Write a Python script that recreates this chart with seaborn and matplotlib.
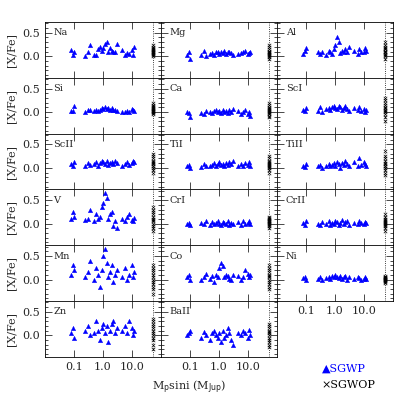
import numpy as np
import pandas as pd
import matplotlib
matplotlib.use("Agg")
import matplotlib.pyplot as plt
import seaborn as sns
from matplotlib.ticker import LogLocator, FixedLocator, NullFormatter, MultipleLocator

sns.set_style("ticks")
plt.rcParams["font.family"] = ["DejaVu Serif"]

# planet masses (M_Jup) for stars with planets
mass = [0.08, 0.09, 0.10, 0.25, 0.30, 0.35, 0.50, 0.60, 0.70, 0.80, 0.90, 1.0, 1.2,
        1.4, 1.5, 1.7, 2.0, 2.3, 2.6, 3.0, 4.5, 6.0, 7.0, 8.0, 10.0, 11.0, 12.0]
elements = ["Na", "Mg", "Al", "Si", "Ca", "ScI", "ScII", "TiI", "TiII",
            "V", "CrI", "CrII", "Mn", "Co", "Ni", "Zn", "BaII"]
sgwp = {
    "Na":   [0.13, 0.03, 0.09, 0.00, 0.10, 0.23, 0.02, 0.03, 0.15, 0.20, 0.12, 0.18, 0.26, 0.30, 0.10, 0.17, 0.12, 0.09, 0.08, 0.27, 0.13, 0.03, 0.07, 0.05, 0.14, 0.02, 0.20],
    "Mg":   [0.02, 0.08, -0.06, 0.03, 0.11, 0.00, 0.05, 0.06, 0.03, 0.08, 0.10, 0.05, 0.09, 0.07, 0.12, 0.04, 0.08, 0.10, 0.06, 0.03, 0.05, 0.07, 0.09, 0.12, 0.04, 0.06, 0.10],
    "Al":   [0.05, 0.12, 0.18, 0.10, 0.04, 0.08, 0.02, 0.12, 0.10, 0.05, 0.15, 0.25, 0.40, 0.30, 0.06, 0.12, 0.08, 0.15, 0.10, 0.20, 0.12, 0.05, 0.15, 0.10, 0.08, 0.18, 0.12],
    "Si":   [0.02, 0.02, 0.13, 0.00, 0.05, 0.05, 0.03, 0.04, 0.02, 0.05, 0.08, 0.06, 0.10, 0.07, 0.09, 0.05, 0.08, 0.04, 0.05, 0.02, 0.00, 0.01, 0.03, 0.00, 0.06, 0.04, 0.02],
    "Ca":   [0.00, -0.02, -0.10, -0.02, -0.04, 0.02, 0.00, -0.03, 0.02, 0.04, 0.00, 0.03, -0.02, 0.05, 0.00, 0.02, -0.03, 0.04, 0.00, 0.06, 0.02, -0.04, 0.00, 0.05, -0.05, 0.00, -0.08],
    "ScI":  [0.05, 0.02, 0.08, 0.03, 0.10, 0.00, 0.06, 0.08, 0.05, 0.10, 0.12, 0.08, 0.06, 0.12, 0.10, 0.05, 0.08, 0.12, 0.06, 0.03, 0.08, 0.05, 0.10, 0.02, 0.06, 0.00, 0.04],
    "ScII": [0.08, 0.05, 0.12, 0.05, 0.10, 0.06, 0.08, 0.12, 0.04, 0.10, 0.15, 0.12, 0.08, 0.14, 0.06, 0.10, 0.12, 0.08, 0.15, 0.10, 0.05, 0.08, 0.12, 0.06, 0.10, 0.15, 0.12],
    "TiI":  [0.03, 0.06, 0.00, 0.02, 0.08, 0.05, 0.03, 0.06, 0.10, 0.05, 0.08, 0.12, 0.06, 0.08, 0.04, 0.10, 0.06, 0.12, 0.08, 0.15, 0.05, 0.08, 0.03, 0.10, 0.06, 0.12, 0.05],
    "TiII": [0.05, 0.02, 0.08, 0.03, 0.06, 0.00, 0.05, 0.08, 0.03, 0.06, 0.10, 0.05, 0.12, 0.08, 0.00, 0.10, 0.06, 0.15, 0.08, 0.05, 0.12, 0.03, 0.20, 0.06, 0.12, 0.08, 0.03],
    "V":    [0.10, 0.25, 0.15, 0.08, 0.10, 0.30, 0.05, 0.20, 0.10, 0.15, 0.35, 0.45, 0.65, 0.55, 0.10, 0.20, 0.25, -0.05, 0.05, -0.10, 0.10, 0.05, 0.15, 0.20, 0.08, 0.05, 0.12],
    "CrI":  [0.00, 0.02, -0.03, 0.02, 0.00, 0.05, -0.02, 0.03, 0.00, 0.02, 0.05, 0.00, -0.02, 0.03, 0.02, 0.00, 0.05, -0.03, 0.02, 0.00, 0.03, -0.02, 0.05, 0.00, 0.02, 0.06, 0.00],
    "CrII": [0.02, -0.02, 0.05, 0.00, -0.03, 0.03, 0.00, 0.05, -0.02, 0.02, 0.00, 0.05, 0.03, -0.02, 0.02, 0.08, 0.00, 0.03, 0.05, -0.02, 0.02, 0.00, 0.06, 0.02, 0.00, 0.04, 0.02],
    "Mn":   [0.10, 0.30, 0.20, 0.05, 0.15, 0.40, 0.00, 0.25, 0.10, -0.15, 0.20, 0.50, 0.65, 0.35, 0.05, 0.15, 0.30, -0.05, 0.10, 0.20, 0.05, 0.25, 0.00, 0.10, 0.30, 0.05, 0.15],
    "Co":   [0.05, 0.10, -0.02, 0.00, 0.05, 0.12, 0.02, 0.08, -0.05, 0.10, 0.05, 0.25, 0.35, 0.28, 0.05, 0.10, 0.08, 0.02, -0.02, 0.10, 0.08, 0.00, 0.05, 0.20, 0.12, 0.05, 0.10],
    "Ni":   [0.03, 0.06, -0.02, 0.02, 0.06, 0.00, 0.03, 0.05, 0.02, 0.08, 0.05, 0.10, 0.06, 0.03, 0.08, 0.02, 0.05, 0.07, 0.00, 0.06, 0.02, 0.05, 0.03, 0.00, 0.02, 0.05, 0.02],
    "Zn":   [0.05, 0.15, -0.05, 0.10, 0.20, 0.00, 0.05, 0.30, 0.10, -0.10, 0.15, 0.25, 0.05, 0.20, -0.15, 0.10, 0.25, 0.30, 0.05, 0.15, 0.10, 0.20, 0.05, 0.30, 0.15, 0.00, 0.10],
    "BaII": [0.00, 0.05, 0.10, -0.05, 0.08, 0.00, -0.10, 0.05, 0.10, 0.00, -0.05, 0.05, -0.15, 0.10, -0.05, 0.00, 0.15, 0.05, -0.10, -0.20, 0.05, 0.00, 0.10, 0.05, -0.05, 0.12, 0.00],
}
# stars without planets (plotted in a column at the right edge)
sgwop = {
    "Na":   [0.00, 0.02, 0.04, 0.06, 0.08, 0.10, 0.12, 0.14, 0.16, 0.18, 0.20, 0.25],
    "Mg":   [-0.05, -0.02, 0.00, 0.02, 0.04, 0.06, 0.08, 0.10, 0.12, 0.15, 0.20, 0.25],
    "Al":   [-0.05, 0.00, 0.02, 0.05, 0.08, 0.10, 0.12, 0.15, 0.18, 0.20, 0.25, 0.30],
    "Si":   [-0.05, -0.02, 0.00, 0.02, 0.03, 0.05, 0.06, 0.08, 0.10, 0.12, 0.15, 0.20],
    "Ca":   [-0.10, -0.08, -0.05, -0.02, 0.00, 0.02, 0.04, 0.06, 0.08, 0.10, 0.15, 0.20],
    "ScI":  [-0.20, -0.10, -0.05, 0.00, 0.02, 0.05, 0.08, 0.10, 0.15, 0.20, 0.25, 0.30],
    "ScII": [-0.10, -0.05, 0.00, 0.03, 0.05, 0.08, 0.10, 0.12, 0.15, 0.20, 0.25, 0.30],
    "TiI":  [-0.10, -0.05, 0.00, 0.02, 0.04, 0.06, 0.08, 0.10, 0.12, 0.15, 0.20, 0.25],
    "TiII": [-0.15, -0.10, -0.05, 0.00, 0.03, 0.05, 0.08, 0.10, 0.15, 0.20, 0.25, 0.35],
    "V":    [-0.15, -0.10, -0.05, 0.00, 0.05, 0.08, 0.10, 0.15, 0.20, 0.25, 0.30, 0.35],
    "CrI":  [-0.10, -0.05, -0.03, 0.00, 0.02, 0.03, 0.05, 0.06, 0.08, 0.10, 0.12, 0.15],
    "CrII": [-0.15, -0.10, -0.05, -0.02, 0.00, 0.02, 0.04, 0.06, 0.08, 0.10, 0.15, 0.20],
    "Mn":   [-0.30, -0.20, -0.15, -0.10, -0.05, 0.00, 0.05, 0.10, 0.15, 0.20, 0.25, 0.30],
    "Co":   [-0.20, -0.15, -0.10, -0.05, 0.00, 0.05, 0.08, 0.10, 0.15, 0.20, 0.25, 0.30],
    "Ni":   [-0.08, -0.05, -0.03, -0.01, 0.00, 0.01, 0.02, 0.03, 0.04, 0.05, 0.06, 0.08],
    "Zn":   [-0.30, -0.20, -0.10, -0.05, 0.00, 0.05, 0.10, 0.15, 0.20, 0.25, 0.30, 0.35],
    "BaII": [-0.25, -0.20, -0.15, -0.10, -0.05, 0.00, 0.05, 0.08, 0.10, 0.15, 0.20, 0.25],
}
sgwop_mass = 55.0

fig, axes = plt.subplots(6, 3, figsize=(4.15, 4.15), dpi=100, sharex=True, sharey=True)
fig.subplots_adjust(left=0.108, right=0.947, top=0.947, bottom=0.14, hspace=0, wspace=0)

for i, ax in enumerate(axes.flat):
    if i >= len(elements):
        ax.set_visible(False)
        continue
    el = elements[i]
    d1 = pd.DataFrame({"m": mass, "y": sgwp[el]})
    d2 = pd.DataFrame({"m": [sgwop_mass] * len(sgwop[el]), "y": sgwop[el]})
    ax.axvline(sgwop_mass, color="k", ls=":", lw=0.6, zorder=0)
    sns.scatterplot(data=d2, x="m", y="y", ax=ax, marker="x", color="k", s=6,
                    linewidth=0.5, legend=False)
    sns.scatterplot(data=d1, x="m", y="y", ax=ax, marker="^", color="blue", s=10,
                    edgecolor="blue", linewidth=0.3, legend=False)
    ax.set_xscale("log")
    ax.set_xlim(0.01, 100)
    ax.set_ylim(-0.46, 0.73)
    ax.text(0.02, 0.5, el, fontsize=7, transform=ax.transData, va="center")
    ax.set_xlabel("")
    ax.set_ylabel("")
    ax.xaxis.set_major_locator(FixedLocator([0.1, 1.0, 10.0]))
    ax.xaxis.set_minor_locator(LogLocator(base=10, subs=np.arange(2, 10)))
    ax.xaxis.set_minor_formatter(NullFormatter())
    ax.yaxis.set_major_locator(FixedLocator([0.0, 0.5]))
    ax.yaxis.set_minor_locator(MultipleLocator(0.1))
    ax.tick_params(which="both", direction="in", top=True, right=True, labelsize=8,
                   width=0.5, color="black")
    ax.tick_params(which="major", length=5)
    ax.tick_params(which="minor", length=2.5)
    for s in ax.spines.values():
        s.set_linewidth(0.6)
        s.set_color("black")
    if i % 3 == 0:
        ax.set_ylabel("[X/Fe]", fontsize=8)
        ax.set_yticklabels(["0.0", "0.5"])

for ax in [axes[5, 0], axes[5, 1], axes[4, 2]]:
    ax.xaxis.set_tick_params(labelbottom=True)
    ax.set_xticklabels(["0.1", "1.0", "10.0"])

fig.text(0.455, 0.06, r"M$_{\rm p}$sini (M$_{\rm Jup}$)", ha="center", fontsize=8)
fig.text(0.775, 0.105, "\u25b2SGWP", color="blue", fontsize=8)
fig.text(0.775, 0.065, "\u00d7SGWOP", color="black", fontsize=8)

fig.savefig("out.png", dpi=100)
